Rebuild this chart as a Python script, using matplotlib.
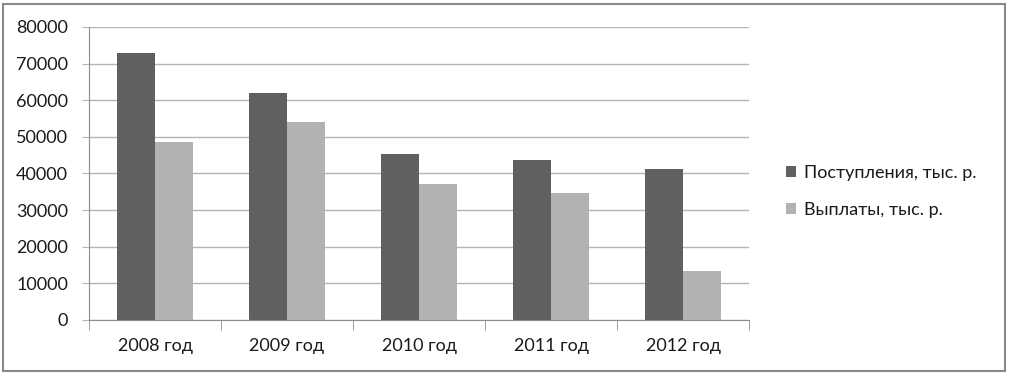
import matplotlib
matplotlib.use("Agg")
import matplotlib.pyplot as plt
from matplotlib.patches import Rectangle
import numpy as np

categories = ["2008 год", "2009 год", "2010 год", "2011 год", "2012 год"]
receipts = [73000, 62000, 45200, 43600, 41200]
payments = [48500, 54000, 37000, 34600, 13400]
series_names = ["Поступления, тыс. р.", "Выплаты, тыс. р."]
yticks = [0, 10000, 20000, 30000, 40000, 50000, 60000, 70000, 80000]

plt.rcParams['font.family'] = ['Lato', 'DejaVu Sans']
W, H = 1010, 377
fig = plt.figure(figsize=(W / 100, H / 100), dpi=100)
ax = fig.add_axes([89 / W, 1 - 320 / H, (749 - 89) / W, (320 - 27) / H])

x = np.arange(len(categories))
bw = 1 / 3.5
c1, c2 = "#606060", "#b2b2b2"
ax.bar(x - bw / 2, receipts, bw, color=c1, label=series_names[0], zorder=3)
ax.bar(x + bw / 2, payments, bw, color=c2, label=series_names[1], zorder=3)

ax.set_xlim(-0.5, len(categories) - 0.5)
ax.set_ylim(0, 80000)
ax.set_yticks(yticks)
ax.set_yticklabels([str(v) for v in yticks])
ax.yaxis.grid(True, color="#b4b4b4", linewidth=1.0, zorder=0)
ax.set_xticks(x)
ax.set_xticklabels(categories)
ax.set_xticks(np.arange(-0.5, len(categories), 1.0), minor=True)

for s in ["top", "right"]:
    ax.spines[s].set_visible(False)
ax.spines["left"].set_color("#8c8c8c")
ax.spines["bottom"].set_color("#8c8c8c")
ax.spines["left"].set_bounds(0, 80000)

ax.tick_params(axis="y", length=5, colors="#b4b4b4", labelcolor="#1a1a1a", labelsize=13, pad=10)
ax.tick_params(axis="x", which="major", length=0, labelsize=13, labelcolor="#1a1a1a", pad=13)
ax.tick_params(axis="x", which="minor", length=7, color="#8c8c8c")

leg = fig.legend(loc="upper left", bbox_to_anchor=(779 / W, 1 - 158 / H),
                 frameon=False, fontsize=13, handlelength=0.55, handleheight=0.55,
                 handletextpad=0.45, labelspacing=1.15, borderaxespad=0)
for t in leg.get_texts():
    t.set_color("#1a1a1a")

fig.patches.append(Rectangle((3 / W, 1 - 371 / H), (1005 - 3) / W, (371 - 4) / H,
                             transform=fig.transFigure, fill=False,
                             edgecolor="#8a8a8a", linewidth=1.5))

fig.savefig("out.png", dpi=100, facecolor="white")
